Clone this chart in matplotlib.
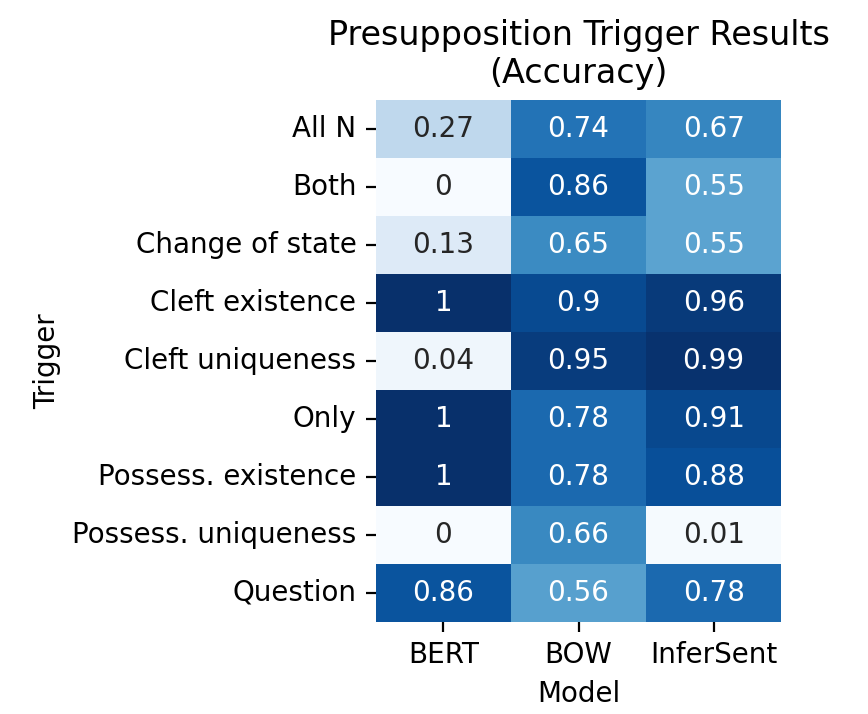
import numpy as np
import pandas as pd
import matplotlib
matplotlib.use('Agg')
import matplotlib.pyplot as plt
import seaborn as sns

triggers = ['All N', 'Both', 'Change of state', 'Cleft existence', 'Cleft uniqueness',
            'Only', 'Possess. existence', 'Possess. uniqueness', 'Question']
models = ['BERT', 'BOW', 'InferSent']
bert = [0.27, 0, 0.13, 1, 0.04, 1, 1, 0, 0.86]
bow = [0.74, 0.86, 0.65, 0.9, 0.95, 0.78, 0.78, 0.66, 0.56]
infersent = [0.67, 0.55, 0.55, 0.96, 0.99, 0.91, 0.88, 0.01, 0.78]

df = pd.DataFrame({'BERT': bert, 'BOW': bow, 'InferSent': infersent}, index=triggers)
df.index.name = 'Trigger'
df.columns.name = 'Model'

fig = plt.figure(figsize=(4.34, 3.57), dpi=200)
ax = fig.add_axes([0.433, 0.129, 0.467, 0.731])
sns.heatmap(df, annot=True, cmap='Blues', vmin=0, vmax=1, cbar=False, ax=ax,
            annot_kws={'fontsize': 10})
ax.set_title('Presupposition Trigger Results\n(Accuracy)', fontsize=12)
ax.set_xlabel('Model', fontsize=10)
ax.set_ylabel('Trigger', fontsize=10)
ax.tick_params(labelsize=10)
plt.setp(ax.get_yticklabels(), rotation=0)
fig.savefig('out.png', dpi=200)
